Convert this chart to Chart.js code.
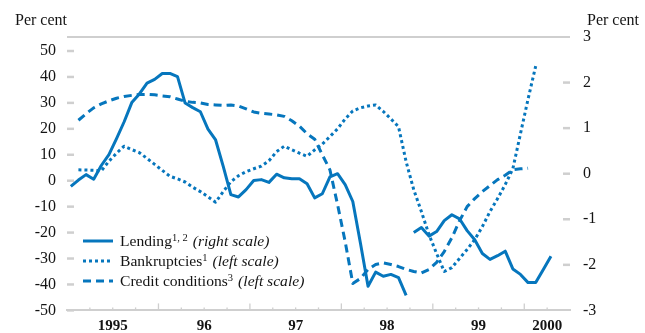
<!DOCTYPE html>
<html>
<head>
<meta charset="utf-8">
<script src="https://cdn.jsdelivr.net/npm/chart.js@4.4.1/dist/chart.umd.min.js"></script>
<style>
  body { margin: 0; background: #fff; }
  #wrap { position: relative; width: 645px; height: 333px; font-family: 'Liberation Serif', 'Times New Roman', serif; color: #141414; }
  .unit { position: absolute; top: 12px; font-size: 16px; line-height: 16px; }
  #legend { position: absolute; left: 83px; top: 231px; font-size: 15.6px; }
  #legend .row { display: flex; align-items: center; height: 20px; }
  #legend svg { margin-right: 7px; }
  #legend sup { font-size: 10.5px; line-height: 0; vertical-align: 5px; }
  #legend i { margin-left: 5px; }
</style>
</head>
<body>
<div id="wrap">
  <canvas id="c" width="645" height="333"></canvas>
  <div class="unit" style="left:15px">Per cent</div>
  <div class="unit" style="left:587px">Per cent</div>
  <div id="legend"></div>
</div>
<script>
// monthly observations, Jan 1995 .. Apr 2000
const startYear = 1995
const months = Array.from({ length: 64 }, (_, i) =>
  (startYear + Math.floor(i / 12)) + '-' + String(i % 12 + 1).padStart(2, '0'))

// right scale, old basis (Jan 95 .. Sep 98)
const lending = [-0.28, -0.14, -0.02, -0.12, 0.18, 0.42, 0.77, 1.14, 1.56, 1.75, 1.99, 2.07,
  2.20, 2.20, 2.13, 1.55, 1.45, 1.36, 0.98, 0.74, 0.16, -0.46, -0.51, -0.35,
  -0.15, -0.13, -0.19, -0.01, -0.09, -0.11, -0.11, -0.22, -0.53, -0.44, -0.07, 0.0,
  -0.24, -0.61, -1.52, -2.47, -2.16, -2.25, -2.21, -2.28, -2.67]
// right scale, new basis (Oct 98 .. Apr 00)
const lendingNew = [-1.29, -1.18, -1.37,
  -1.27, -1.03, -0.90, -0.99, -1.25, -1.45, -1.75, -1.88, -1.80, -1.70, -2.09, -2.21,
  -2.39, -2.39, -2.10, -1.81]
// left scale
const bankruptcies = [null, 4.2, 4.1, 4.0, 3.8, 7.5, 10.6, 13.3, 12.0, 10.8, 8.6, 6.3,
  4.0, 1.7, 0.7, -0.5, -2.5, -4.2, -6.2, -8.3, -4.2, -0.4, 1.9, 3.5,
  4.6, 5.6, 7.7, 11.2, 13.3, 11.9, 10.6, 9.4, 11.9, 14.1, 17.0, 20.0,
  23.8, 26.9, 28.1, 28.8, 29.2, 26.7, 23.8, 20.8, 7.3, -3.5, -11.9, -20.8,
  -28.1, -35.0, -33.5, -30.0, -26.5, -22.7, -17.7, -11.9, -6.9, -1.5, 4.6, 18.1,
  31.5, 44.2, null, null]
const credit = [null, 23.3, 25.8, 28.1, 29.6, 30.8, 31.8, 32.5, 32.9, 33.2, 33.3, 33.1,
  32.7, 32.4, 31.5, 30.6, 30.2, 30.0, 29.4, 29.2, 29.0, 29.2, 28.8, 27.7,
  26.5, 26.0, 25.7, 25.4, 24.8, 23.1, 21.0, 18.1, 16.0, 10.0, 4.2, -9.2,
  -23.5, -39.6, -37.7, -34.2, -32.3, -31.7, -32.3, -33.1, -34.2, -35.0, -35.6, -34.2,
  -31.5, -27.3, -22.0, -15.5, -10.0, -6.9, -4.2, -1.9, 0.4, 2.1, 4.2, 4.6,
  4.8, null, null, null]

const leftTicks = [50, 40, 30, 20, 10, 0, -10, -20, -30, -40, -50]
const rightTicks = [3, 2, 1, 0, -1, -2, -3]
const yearLabels = ['1995', '96', '97', '98', '99', '2000']
const yearLabelAt = [1995.5, 1996.5, 1997.5, 1998.5, 1999.5, 2000.25]

const blue = '#0676bd'
const grey = '#cfcfcf'

const toX = m => {
  const [y, mo] = m.split('-').map(Number)
  return y + (mo - 0.5) / 12
}
const series = (arr, offset = 0) => arr.map((v, i) => ({ x: toX(months[i + offset]), y: v }))

const legendItems = [
  { name: 'Lending', sup: '1, 2', note: '(right scale)', dash: [] },
  { name: 'Bankruptcies', sup: '1', note: '(left scale)', dash: [3, 3] },
  { name: 'Credit conditions', sup: '3', note: '(left scale)', dash: [8, 5] }
]

const decor = {
  id: 'decor',
  beforeDatasetsDraw(chart) {
    const { ctx, chartArea: a, scales } = chart
    ctx.save()
    ctx.strokeStyle = grey
    ctx.lineWidth = 2
    ctx.beginPath()
    ctx.moveTo(a.left, a.top)
    ctx.lineTo(a.right, a.top)
    ctx.stroke()
    ctx.lineWidth = 2.5
    leftTicks.forEach(v => {
      const y = scales.y.getPixelForValue(v)
      ctx.beginPath(); ctx.moveTo(a.left, y); ctx.lineTo(a.left + 7, y); ctx.stroke()
    })
    rightTicks.slice(1, -1).forEach(v => {
      const y = scales.y2.getPixelForValue(v)
      ctx.beginPath(); ctx.moveTo(a.right - 7, y); ctx.lineTo(a.right, y); ctx.stroke()
    })
    ctx.lineWidth = 1.3
    for (let q = 1; q < 22; q++) {
      const x = scales.x.getPixelForValue(startYear + q / 4)
      const len = q % 4 === 0 ? 7 : 3
      ctx.beginPath(); ctx.moveTo(x, a.bottom); ctx.lineTo(x, a.bottom - len); ctx.stroke()
    }
    ctx.restore()
  }
}

const line = (label, data, axis, dash, width = 3) => ({
  label, data, yAxisID: axis,
  borderColor: blue, borderWidth: width, borderDash: dash,
  borderCapStyle: 'butt', borderJoinStyle: 'round',
  pointRadius: 0, tension: 0, spanGaps: false, fill: false
})

new Chart(document.getElementById('c').getContext('2d'), {
  type: 'line',
  data: {
    datasets: [
      line('Lending', series(lending), 'y2', []),
      line('Lending (new)', series(lendingNew, lending.length), 'y2', []),
      line('Bankruptcies', series(bankruptcies), 'y', [3, 3]),
      line('Credit conditions', series(credit), 'y', [8, 5])
    ]
  },
  options: {
    responsive: false,
    animation: false,
    layout: { padding: { top: 37, left: 0, right: 0, bottom: 0 } },
    plugins: { legend: { display: false }, tooltip: { enabled: false } },
    scales: {
      x: {
        type: 'linear', min: 1995, max: 2000.5,
        afterBuildTicks: s => { s.ticks = yearLabelAt.map(v => ({ value: v })) },
        afterFit: s => { s.height = 22 },
        grid: { display: false, drawTicks: false },
        border: { display: true, color: grey, width: 2 },
        ticks: {
          autoSkip: false, maxRotation: 0, padding: 7, color: '#141414',
          font: { family: 'Liberation Serif', size: 15, weight: 'bold' },
          callback: (v) => yearLabels[yearLabelAt.indexOf(v)]
        }
      },
      y: {
        position: 'left', min: -50, max: 55.4,
        afterBuildTicks: s => { s.ticks = leftTicks.map(v => ({ value: v })) },
        afterFit: s => { s.width = 67 },
        grid: { display: false, drawTicks: false },
        border: { display: false },
        ticks: { padding: 11, color: '#141414', font: { family: 'Liberation Serif', size: 16 } }
      },
      y2: {
        position: 'right', min: -3, max: 3,
        afterBuildTicks: s => { s.ticks = rightTicks.map(v => ({ value: v })) },
        afterFit: s => { s.width = 75 },
        grid: { display: false, drawTicks: false },
        border: { display: false },
        ticks: { padding: 13, color: '#141414', font: { family: 'Liberation Serif', size: 16 } }
      }
    }
  },
  plugins: [decor]
})

// legend with superscripts and italics
document.getElementById('legend').innerHTML = legendItems.map(it =>
  '<div class="row"><svg width="30" height="6"><line x1="0" y1="3" x2="30" y2="3" stroke="' + blue +
  '" stroke-width="3" stroke-dasharray="' + (it.dash.join(',') || 'none') + '"/></svg>' +
  '<span>' + it.name + '<sup>' + it.sup + '</sup><i>' + it.note + '</i></span></div>').join('')
</script>
</body>
</html>
